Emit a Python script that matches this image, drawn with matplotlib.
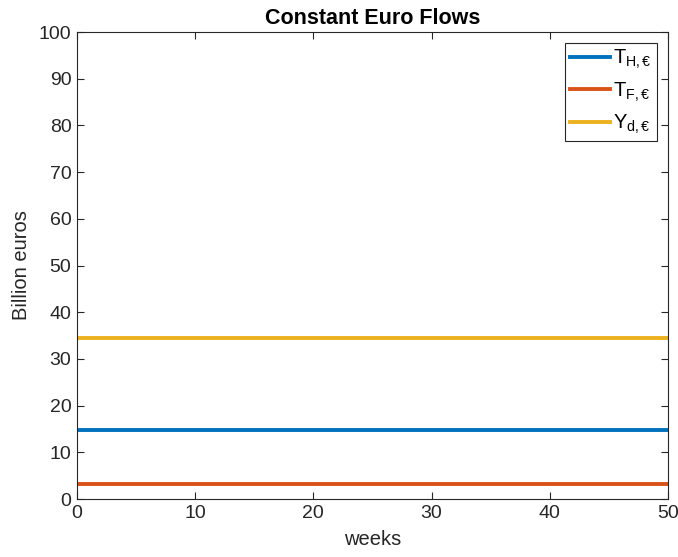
import matplotlib
matplotlib.use("Agg")
import matplotlib.pyplot as plt

# Weekly euro flows (billion euros), constant over the horizon
weeks = [0, 50]
t_home = [14.7, 14.7]
t_foreign = [3.2, 3.2]
y_disp = [34.5, 34.5]

plt.rcParams["font.family"] = ["Liberation Sans", "DejaVu Sans"]
plt.rcParams["mathtext.fontset"] = "custom"
plt.rcParams["mathtext.rm"] = "Liberation Sans"
plt.rcParams["mathtext.it"] = "Liberation Sans"

fig = plt.figure(figsize=(6.78, 5.57), dpi=100)
ax = fig.add_axes([0.1136, 0.104, 0.8714, 0.8385])

ax.plot(weeks, t_home, color="#0072BD", lw=2.8, label=r"$\mathrm{T_{H,€}}$")
ax.plot(weeks, t_foreign, color="#D95319", lw=2.8, label=r"$\mathrm{T_{F,€}}$")
ax.plot(weeks, y_disp, color="#EDB120", lw=2.8, label=r"$\mathrm{Y_{d,€}}$")

ax.set_xlim(0, 50)
ax.set_ylim(0, 100)
ax.set_xticks(range(0, 51, 10))
ax.set_yticks(range(0, 101, 10))
ax.tick_params(direction="in", top=True, right=True, labelsize=14,
               colors="#262626", length=5, width=0.8, pad=4)
for s in ax.spines.values():
    s.set_color("#262626")
    s.set_linewidth(0.8)

ax.set_xlabel("weeks", fontsize=14.5, color="#262626", labelpad=6)
ax.set_ylabel("Billion euros", fontsize=14.5, color="#262626", labelpad=6)
ax.set_title("Constant Euro Flows", fontsize=15.5, fontweight="bold", pad=6)

leg = ax.legend(loc="upper right", fontsize=14.5, fancybox=False, framealpha=1,
                edgecolor="#262626", handlelength=2.0, borderpad=0.25,
                labelspacing=0.45, handletextpad=0.15, borderaxespad=0.55)
leg.get_frame().set_linewidth(0.8)

fig.savefig("out.png", dpi=100)
